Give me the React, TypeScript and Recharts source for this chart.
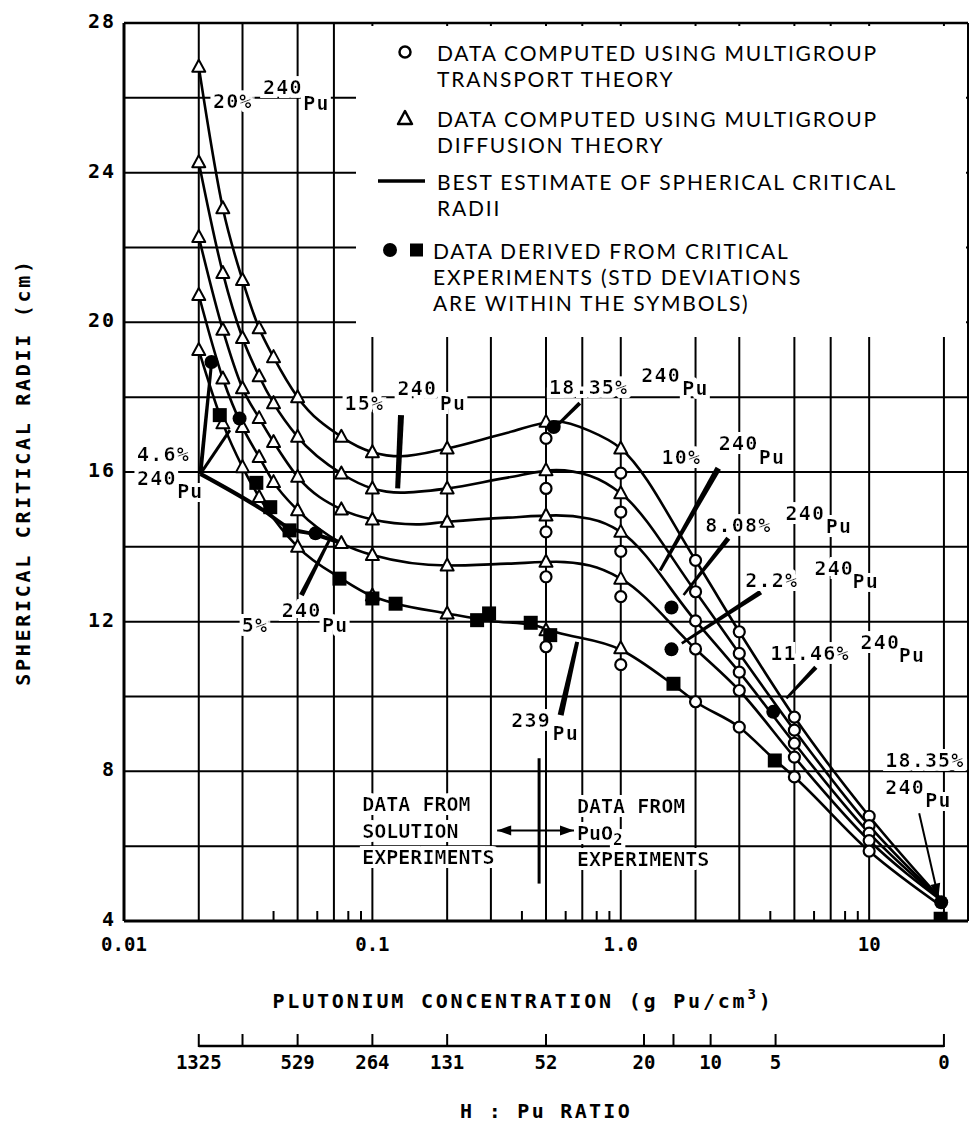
import React from 'react'
import {
  ComposedChart,
  Line,
  Scatter,
  XAxis,
  YAxis,
  CartesianGrid,
  ReferenceLine,
  ReferenceDot,
} from 'recharts'

if (typeof document !== 'undefined') document.body.style.margin = '0'

type Pair = [number, number]

// ---- axes -------------------------------------------------------------
const concentrationTicks = [0.01, 0.1, 1, 10]
const concentrationLabels = ['0.01', '0.1', '1.0', '10']
const minorTicks = [0.04, 0.06, 0.08, 0.09, 0.4, 0.6, 0.8, 0.9, 4, 6, 8, 9]
const gridConcentrations = [0.02, 0.03, 0.05, 0.07, 0.1, 0.2, 0.3, 0.5, 0.7, 1, 2, 3, 5, 7, 10, 20]
const radiusTicks = [4, 8, 12, 16, 20, 24, 28]
const gridRadii = [6, 8, 10, 12, 14, 16, 18, 20, 22, 24, 26]

// H : Pu ratio scale, drawn at the matching concentrations
const hpuConcentrations = [0.02, 0.03, 0.05, 0.1, 0.2, 0.5, 1.24, 1.63, 2.3, 4.2, 20]
const hpuLabels = ['1325', '', '529', '264', '131', '52', '20', '', '10', '5', '0']

// ---- best estimate curves (concentration, radius) -----------------------
const curve20: Pair[] = [
  [0.02, 26.83], [0.025, 23.05], [0.03, 21.13], [0.035, 19.84], [0.04, 19.07], [0.05, 18.0],
  [0.075, 16.94], [0.1, 16.53], [0.13, 16.42], [0.2, 16.63], [0.35, 17.05], [0.55, 17.35],
  [0.75, 17.1], [1.0, 16.63], [2.0, 13.64], [3.0, 11.73], [5.0, 9.45], [10, 6.8], [20, 4.5],
]
const curve15: Pair[] = [
  [0.02, 24.28], [0.025, 21.32], [0.03, 19.58], [0.035, 18.56], [0.04, 17.84], [0.05, 16.94],
  [0.075, 15.96], [0.1, 15.56], [0.13, 15.45], [0.2, 15.56], [0.35, 15.85], [0.55, 16.05],
  [0.75, 15.9], [1.0, 15.43], [2.0, 12.8], [3.0, 11.15], [5.0, 9.1], [10, 6.55], [20, 4.5],
]
const curve10: Pair[] = [
  [0.02, 22.28], [0.025, 19.8], [0.03, 18.24], [0.035, 17.44], [0.04, 16.8], [0.05, 15.87],
  [0.075, 15.0], [0.1, 14.73], [0.15, 14.6], [0.2, 14.67], [0.35, 14.78], [0.55, 14.84],
  [0.75, 14.75], [1.0, 14.4], [2.0, 12.02], [3.0, 10.65], [5.0, 8.75], [10, 6.35], [20, 4.5],
]
const curve5: Pair[] = [
  [0.02, 20.73], [0.025, 18.5], [0.03, 17.2], [0.035, 16.4], [0.04, 15.73], [0.05, 14.98],
  [0.075, 14.1], [0.1, 13.78], [0.2, 13.5], [0.35, 13.55], [0.55, 13.6], [0.75, 13.5],
  [1.0, 13.15], [2.0, 11.27], [3.0, 10.16], [5.0, 8.38], [10, 6.15], [20, 4.5],
]
const curve239: Pair[] = [
  [0.02, 19.26], [0.025, 17.3], [0.03, 16.13], [0.035, 15.33], [0.05, 14.0], [0.075, 13.15],
  [0.1, 12.68], [0.125, 12.48], [0.2, 12.22], [0.3, 12.02], [0.45, 11.9], [0.55, 11.72],
  [1.0, 11.25], [1.6, 10.35], [2.0, 9.86], [3.0, 9.18], [4.2, 8.29], [5.0, 7.85], [10, 5.87], [20, 4.35],
]
// 4.6% 240Pu solution experiments
const curve46: Pair[] = [[0.0203, 15.95], [0.0363, 14.98], [0.0464, 14.5], [0.059, 14.33], [0.075, 14.1]]

// ---- computed points ----------------------------------------------------
const diffusionConc = [0.02, 0.025, 0.03, 0.035, 0.04, 0.05, 0.075, 0.1, 0.2, 0.5, 1.0]
const diffusionRadii = [
  [26.83, 24.28, 22.28, 20.73, 19.26],
  [23.05, 21.32, 19.8, 18.5, 17.3],
  [21.13, 19.58, 18.24, 17.2, 16.13],
  [19.84, 18.56, 17.44, 16.4, 15.33],
  [19.07, 17.84, 16.8, 15.73],
  [18.0, 16.94, 15.87, 14.98, 14.0],
  [16.94, 15.96, 15.0, 14.1],
  [16.53, 15.56, 14.73, 13.78, 12.7],
  [16.63, 15.56, 14.67, 13.5, 12.22],
  [17.34, 16.05, 14.84, 13.6, 11.77],
  [16.63, 15.43, 14.4, 13.15, 11.29],
]
const transportConc = [0.5, 1.0, 2.0, 3.0, 5.0, 10]
const transportRadii = [
  [16.9, 15.56, 14.4, 13.2, 11.33],
  [15.97, 14.93, 13.88, 12.67, 10.85],
  [13.64, 12.8, 12.02, 11.27, 9.86],
  [11.73, 11.15, 10.65, 10.16, 9.18],
  [9.45, 9.1, 8.75, 8.38, 7.85],
  [6.8, 6.55, 6.35, 6.15, 5.87],
]

// ---- critical experiments ---------------------------------------------
const expCircles: Pair[] = [
  [0.0225, 18.94], [0.0292, 17.43], [0.059, 14.36], [0.537, 17.2],
  [1.6, 12.38], [1.6, 11.26], [4.11, 9.59], [19.5, 4.5],
]
const expSquares: Pair[] = [
  [0.0243, 17.52], [0.0341, 15.71], [0.0388, 15.06], [0.0464, 14.44], [0.0737, 13.15],
  [0.1, 12.62], [0.124, 12.48], [0.264, 12.04], [0.295, 12.22], [0.434, 11.97], [0.52, 11.64],
  [1.63, 10.34], [4.17, 8.29], [19.4, 4.06],
]

// ---- annotations ------------------------------------------------------
// wedge pointers from label to curve: [from, to, width at from, width at tip]
const pointers: [Pair, Pair, number, number][] = [
  [[0.1304, 17.52], [0.1264, 15.56], 6, 5],
  [[0.0518, 12.71], [0.0671, 14.18], 5, 3],
  [[0.5726, 9.5], [0.6677, 11.46], 6, 4],
  [[0.684, 17.84], [0.54, 17.17], 4, 3],
  [[2.47, 16.1], [1.44, 13.37], 6, 3],
  [[2.71, 14.23], [1.79, 12.71], 5, 2.5],
  [[3.66, 12.79], [1.76, 11.42], 5, 2.5],
  [[6.1, 10.78], [4.64, 9.95], 4.5, 2.5],
  [[0.0203, 15.95], [0.0225, 18.9], 4, 3],
  [[0.0203, 15.95], [0.0267, 17.12], 3, 3],
]

const tags = [
  { at: [0.0228, 25.73] as Pair, pct: '20%', gap: 10.4, rise: -13.5, puGap: 0.4, fall: 15.5 },
  { at: [0.0772, 17.67] as Pair, pct: '15%', gap: 13.4, rise: -15, puGap: 2.4, fall: 15.5 },
  { at: [0.01128, 16.29] as Pair, pct: '4.6%', gap: 0, rise: 24, puGap: 0.4, fall: 13, stacked: true },
  { at: [0.02977, 11.73] as Pair, pct: '5%', gap: 13.6, rise: -14.5, puGap: 0.4, fall: 15 },
  { at: [0.5137, 18.09] as Pair, pct: '18.35%', gap: 12.8, rise: -12, puGap: 1.4, fall: 13.5 },
  { at: [1.46, 16.22] as Pair, pct: '10%', gap: 17.4, rise: -14, puGap: 0.4, fall: 14.5 },
  { at: [2.19, 14.4] as Pair, pct: '8.08%', gap: 14, rise: -12, puGap: 0.4, fall: 13.5 },
  { at: [3.17, 12.93] as Pair, pct: '2.2%', gap: 16.2, rise: -12, puGap: -1.6, fall: 13.5 },
  { at: [4.0, 10.98] as Pair, pct: '11.46%', gap: 10.8, rise: -11, puGap: -1.6, fall: 13.5 },
  { at: [11.6, 8.12] as Pair, pct: '18.35%', gap: 0, rise: 27, puGap: 0.4, fall: 13.5, stacked: true },
]

// ---- styles -----------------------------------------------------------
const mono = '"DejaVu Sans Mono", "Liberation Mono", monospace'
const tickFont = { fontFamily: mono, fontWeight: 700, fontSize: 19, fill: '#000' }
const tagFont = { fontFamily: mono, fontWeight: 700, fontSize: 20, letterSpacing: 1.2, fill: '#000' }
const titleFont = { fontFamily: mono, fontWeight: 700, fontSize: 20, fill: '#000' }
const legendFont = { fontFamily: 'Lato, "Open Sans", sans-serif', fontSize: 21, letterSpacing: 1.8, fill: '#000' }
const HALO = 'url(#text-halo)'

const pts = (pairs: Pair[]) => pairs.map(([x, y]) => ({ x, y }))
const grid = (xs: number[], ys: number[][]) =>
  xs.flatMap((x, i) => ys[i].map((y) => ({ x, y })))

// ---- marks ------------------------------------------------------------
const Triangle = ({ cx, cy }: any) => (
  <path d={`M${cx},${cy - 7}L${cx + 6.5},${cy + 5}L${cx - 6.5},${cy + 5}Z`} fill="#fff" stroke="#000" strokeWidth={2} strokeLinejoin="round" />
)
const OpenCircle = ({ cx, cy }: any) => <circle cx={cx} cy={cy} r={5.5} fill="#fff" stroke="#000" strokeWidth={2.2} />
const FilledCircle = ({ cx, cy }: any) => <circle cx={cx} cy={cy} r={7} fill="#000" />
const FilledSquare = ({ cx, cy }: any) => <rect x={cx - 7} y={cy - 7} width={14} height={14} fill="#000" />

const wedge = (w1: number, w2: number) => (p: any) => {
  const { x1, y1, x2, y2 } = p
  const len = Math.hypot(x2 - x1, y2 - y1) || 1
  const nx = -(y2 - y1) / len
  const ny = (x2 - x1) / len
  const q = [
    [x1 + (nx * w1) / 2, y1 + (ny * w1) / 2],
    [x2 + (nx * w2) / 2, y2 + (ny * w2) / 2],
    [x2 - (nx * w2) / 2, y2 - (ny * w2) / 2],
    [x1 - (nx * w1) / 2, y1 - (ny * w1) / 2],
  ]
  return <polygon points={q.map((v) => v.join(',')).join(' ')} fill="#000" />
}

const headed = (width: number, both: boolean) => (p: any) => {
  const { x1, y1, x2, y2 } = p
  const a = Math.atan2(y2 - y1, x2 - x1)
  const head = (x: number, y: number, ang: number) => {
    const bx = x - 14 * Math.cos(ang)
    const by = y - 14 * Math.sin(ang)
    return `${x},${y} ${bx + 5 * Math.sin(ang)},${by - 5 * Math.cos(ang)} ${bx - 5 * Math.sin(ang)},${by + 5 * Math.cos(ang)}`
  }
  return (
    <g>
      <line x1={x1} y1={y1} x2={x2} y2={y2} stroke="#000" strokeWidth={width} />
      <polygon points={head(x2, y2, a)} fill="#000" />
      {both && <polygon points={head(x1, y1, a + Math.PI)} fill="#000" />}
    </g>
  )
}

const PuTag = ({ cx, cy, t }: any) => (
  <text x={cx} y={cy} style={tagFont} filter={HALO}>
    {t.pct}
    {t.stacked ? (
      <tspan x={cx} dy={t.rise}>240</tspan>
    ) : (
      <tspan dx={t.gap} dy={t.rise}>240</tspan>
    )}
    <tspan dx={t.puGap} dy={t.fall}>Pu</tspan>
  </text>
)

const Pu239Tag = ({ cx, cy }: any) => (
  <text x={cx} y={cy} style={tagFont} filter={HALO}>
    239<tspan dx={1.4} dy={13.5}>Pu</tspan>
  </text>
)

const BlockText = ({ cx, cy, lines }: any) => (
  <text x={cx} y={cy} style={titleFont} filter={HALO}>
    {lines.map((ln: any, i: number) => (
      <tspan key={i} x={cx} dy={i === 0 ? 0 : 26.5}>{ln}</tspan>
    ))}
  </text>
)

const PuO2Text = ({ cx, cy }: any) => (
  <text x={cx} y={cy} style={titleFont} filter={HALO}>
    DATA FROM
    <tspan x={cx} dy={26.5}>PuO</tspan>
    <tspan dy={5} fontSize={16}>2</tspan>
    <tspan x={cx} dy={21.5}>EXPERIMENTS</tspan>
  </text>
)

// ---- axis ticks and titles ------------------------------------------------
const ConcTick = (props: any) => {
  const { x, y, payload } = props
  const i = concentrationTicks.indexOf(payload.value)
  if (i >= 0) {
    return (
      <text x={x} y={y + 30} textAnchor="middle" style={tickFont}>
        {concentrationLabels[i]}
      </text>
    )
  }
  return <line x1={x} x2={x} y1={y - 1} y2={y - 10} stroke="#000" strokeWidth={2} />
}

let hpuPrevX: number | null = null
const HpuTick = (props: any) => {
  const { x, y, payload } = props
  const i = hpuConcentrations.indexOf(payload.value)
  const prev = i === 0 ? null : hpuPrevX
  hpuPrevX = x
  return (
    <g>
      {prev !== null && <line x1={prev} x2={x} y1={y + 25} y2={y + 25} stroke="#000" strokeWidth={2.5} />}
      <line x1={x} x2={x} y1={y + 13} y2={y + 26} stroke="#000" strokeWidth={2} />
      {hpuLabels[i] && (
        <text x={x} y={y + 48} textAnchor="middle" style={tickFont}>
          {hpuLabels[i]}
        </text>
      )}
    </g>
  )
}

const RadiusTick = (props: any) => {
  const { x, y, payload } = props
  return (
    <text x={x} y={y + 5} textAnchor="end" style={{ ...tickFont, fontSize: 20, letterSpacing: 2 }}>
      {payload.value}
    </text>
  )
}

const XTitle = (props: any) => {
  const vb = props.viewBox || { x: 124, y: 921, width: 844, height: 100 }
  return (
    <text x={vb.x + vb.width / 2 - 23} y={vb.y + 87} textAnchor="middle" style={{ ...titleFont, letterSpacing: 2.8 }}>
      PLUTONIUM CONCENTRATION (g Pu/cm<tspan dy={-9} fontSize={14}>3</tspan>
      <tspan dy={9}>)</tspan>
    </text>
  )
}

const HpuTitle = (props: any) => {
  const vb = props.viewBox || { x: 124, y: 1021, width: 844, height: 109 }
  return (
    <text x={vb.x + vb.width / 2} y={vb.y + 97} textAnchor="middle" style={{ ...titleFont, letterSpacing: 2.3 }}>
      H : Pu RATIO
    </text>
  )
}

const YTitle = (props: any) => {
  const vb = props.viewBox || { x: 0, y: 23, width: 124, height: 898 }
  const cx = vb.x + 23
  const cy = vb.y + vb.height / 2
  return (
    <text x={cx} y={cy} transform={`rotate(-90 ${cx} ${cy})`} textAnchor="middle" dominantBaseline="central" style={{ ...titleFont, letterSpacing: 2.7 }}>
      SPHERICAL CRITICAL RADII (cm)
    </text>
  )
}

export default function App() {
  const curves = [curve20, curve15, curve10, curve5, curve239]
  return (
    <div style={{ position: 'relative', width: 970, height: 1130, background: '#fff' }}>
      {/* white dilation behind in-plot labels, so the grid breaks around them */}
      <svg width={0} height={0} style={{ position: 'absolute' }}>
        <defs>
          <filter id="text-halo" x="-15%" y="-45%" width="130%" height="190%">
            <feMorphology in="SourceAlpha" operator="dilate" radius="4" result="grown" />
            <feFlood floodColor="#fff" />
            <feComposite in2="grown" operator="in" result="pad" />
            <feMerge>
              <feMergeNode in="pad" />
              <feMergeNode in="SourceGraphic" />
            </feMerge>
          </filter>
        </defs>
      </svg>
      <ComposedChart width={970} height={1130} margin={{ top: 23, right: 2, bottom: 0, left: 0 }}>
        <CartesianGrid horizontalValues={gridRadii} verticalValues={gridConcentrations} stroke="#000" strokeWidth={2} />
        <XAxis
          dataKey="x"
          type="number"
          scale="log"
          domain={[0.01, 25]}
          allowDataOverflow
          ticks={[...concentrationTicks, ...minorTicks]}
          interval={0}
          tickLine={false}
          tickSize={0}
          tickMargin={0}
          height={100}
          axisLine={{ stroke: '#000', strokeWidth: 3 }}
          tick={<ConcTick />}
          label={{ content: XTitle }}
        />
        <XAxis
          xAxisId="hpu"
          dataKey="x"
          type="number"
          scale="log"
          domain={[0.01, 25]}
          allowDataOverflow
          ticks={hpuConcentrations}
          interval={0}
          tickLine={false}
          tickSize={0}
          tickMargin={0}
          height={109}
          axisLine={false}
          tick={<HpuTick />}
          label={{ content: HpuTitle }}
        />
        <YAxis
          dataKey="y"
          type="number"
          domain={[4, 28]}
          allowDataOverflow
          ticks={radiusTicks}
          interval={0}
          width={124}
          tickLine={false}
          tickSize={0}
          tickMargin={8}
          axisLine={{ stroke: '#000', strokeWidth: 3 }}
          tick={<RadiusTick />}
          label={{ content: YTitle }}
        />
        <ReferenceLine y={28} stroke="#000" strokeWidth={2.5} />
        <ReferenceLine x={25} stroke="#000" strokeWidth={2} />

        {curves.map((c, i) => (
          <Line key={i} data={pts(c)} dataKey="y" type="monotone" stroke="#000" strokeWidth={2.6} dot={false} isAnimationActive={false} />
        ))}
        <Line data={pts(curve46)} dataKey="y" type="monotone" stroke="#000" strokeWidth={4} dot={false} isAnimationActive={false} />

        {pointers.map(([a, b, w1, w2], i) => (
          <ReferenceLine key={`p${i}`} segment={[{ x: a[0], y: a[1] }, { x: b[0], y: b[1] }]} shape={wedge(w1, w2)} />
        ))}
        <ReferenceLine segment={[{ x: 15.9, y: 6.88 }, { x: 19.0, y: 4.63 }]} shape={headed(2, false)} />
        <ReferenceLine segment={[{ x: 0.318, y: 6.42 }, { x: 0.648, y: 6.42 }]} shape={headed(2, true)} />
        <ReferenceLine segment={[{ x: 0.469, y: 8.35 }, { x: 0.469, y: 5.0 }]} stroke="#000" strokeWidth={3} />

        <Scatter data={grid(diffusionConc, diffusionRadii)} dataKey="y" shape={(p: any) => <Triangle {...p} />} isAnimationActive={false} />
        <Scatter data={grid(transportConc, transportRadii)} dataKey="y" shape={(p: any) => <OpenCircle {...p} />} isAnimationActive={false} />
        <Scatter data={pts(expCircles)} dataKey="y" shape={(p: any) => <FilledCircle {...p} />} isAnimationActive={false} />
        <Scatter data={pts(expSquares)} dataKey="y" shape={(p: any) => <FilledSquare {...p} />} isAnimationActive={false} />

        {tags.map((t, i) => (
          <ReferenceDot key={`t${i}`} x={t.at[0]} y={t.at[1]} r={1} shape={(p: any) => <PuTag cx={p.cx} cy={p.cy} t={t} />} />
        ))}
        <ReferenceDot x={0.3627} y={9.19} r={1} shape={(p: any) => <Pu239Tag cx={p.cx} cy={p.cy} />} />
        <ReferenceDot x={0.091} y={6.93} r={1} shape={(p: any) => <BlockText cx={p.cx} cy={p.cy} lines={['DATA FROM', 'SOLUTION', 'EXPERIMENTS']} />} />
        <ReferenceDot x={0.666} y={6.88} r={1} shape={(p: any) => <PuO2Text cx={p.cx} cy={p.cy} />} />
      </ComposedChart>

      {/* legend box, blanks the grid behind it like the original */}
      <svg width={970} height={1130} style={{ position: 'absolute', left: 0, top: 0, pointerEvents: 'none' }}>
        <rect x={356} y={26} width={610} height={311} fill="#fff" />
        <circle cx={405} cy={52} r={5.5} fill="#fff" stroke="#000" strokeWidth={2.5} />
        <text x={437} y={60.5} style={legendFont}>DATA COMPUTED USING MULTIGROUP</text>
        <text x={437} y={86.5} style={legendFont}>TRANSPORT THEORY</text>
        <path d="M405,111L412,124L398,124Z" fill="#fff" stroke="#000" strokeWidth={2.5} strokeLinejoin="round" />
        <text x={437} y={126.5} style={legendFont}>DATA COMPUTED USING MULTIGROUP</text>
        <text x={437} y={152.5} style={legendFont}>DIFFUSION THEORY</text>
        <line x1={378} x2={425} y1={181} y2={181} stroke="#000" strokeWidth={3.5} />
        <text x={437} y={189.5} style={legendFont}>BEST ESTIMATE OF SPHERICAL CRITICAL</text>
        <text x={437} y={216} style={legendFont}>RADII</text>
        <circle cx={390} cy={250} r={7} fill="#000" />
        <rect x={410} y={243.5} width={13} height={13} fill="#000" />
        <text x={433} y={258.5} style={legendFont}>DATA DERIVED FROM CRITICAL</text>
        <text x={433} y={284.5} style={legendFont}>EXPERIMENTS (STD DEVIATIONS</text>
        <text x={433} y={310.5} style={legendFont}>ARE WITHIN THE SYMBOLS)</text>
      </svg>
    </div>
  )
}
